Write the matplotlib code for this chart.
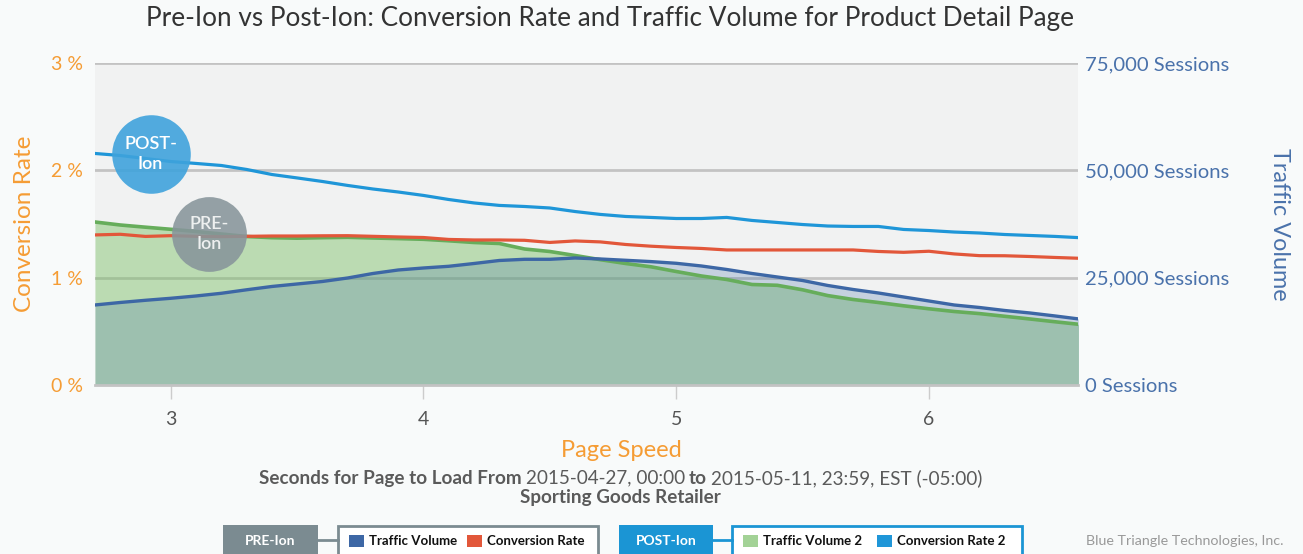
import numpy as np
import matplotlib.pyplot as plt
from matplotlib.patches import Rectangle
from matplotlib.ticker import FuncFormatter

plt.rcParams['font.family'] = ['Lato', 'DejaVu Sans']

# page speed in seconds
speed = [2.7, 2.8, 2.9, 3.0, 3.1, 3.2, 3.3, 3.4, 3.5, 3.6,
         3.7, 3.8, 3.9, 4.0, 4.1, 4.2, 4.3, 4.4, 4.5, 4.6,
         4.7, 4.8, 4.9, 5.0, 5.1, 5.2, 5.3, 5.4, 5.5, 5.6,
         5.7, 5.8, 5.9, 6.0, 6.1, 6.2, 6.3, 6.4, 6.5, 6.6]

# PRE-Ion
conv_pre = [1.398, 1.404, 1.384, 1.391, 1.385, 1.382, 1.385, 1.388, 1.388, 1.390,
            1.391, 1.385, 1.379, 1.374, 1.356, 1.351, 1.351, 1.348, 1.328, 1.342,
            1.333, 1.309, 1.293, 1.281, 1.272, 1.258, 1.258, 1.258, 1.258, 1.258,
            1.258, 1.244, 1.236, 1.246, 1.221, 1.205, 1.204, 1.197, 1.188, 1.180]
traffic_pre = [18634, 19215, 19727, 20193, 20730, 21357, 22173, 22942, 23525, 24105,
               24921, 25970, 26783, 27250, 27645, 28297, 28996, 29275, 29275, 29578,
               29345, 29043, 28740, 28344, 27715, 26900, 25970, 25153, 24338, 23174,
               22242, 21427, 20495, 19564, 18632, 18050, 17351, 16769, 16070, 15325]

# POST-Ion
conv_post = [2.157, 2.138, 2.110, 2.082, 2.064, 2.045, 2.008, 1.961, 1.929, 1.896,
             1.859, 1.826, 1.798, 1.766, 1.728, 1.696, 1.673, 1.663, 1.649, 1.616,
             1.589, 1.570, 1.561, 1.551, 1.551, 1.561, 1.533, 1.514, 1.495, 1.481,
             1.477, 1.477, 1.449, 1.439, 1.425, 1.416, 1.402, 1.393, 1.384, 1.372]
traffic_post = [37963, 37264, 36752, 36263, 35750, 35168, 34586, 34306, 34190, 34306,
                34399, 34236, 34096, 33934, 33584, 33188, 32955, 31674, 31092, 30161,
                29183, 28297, 27529, 26434, 25386, 24571, 23406, 23220, 22172, 20821,
                19913, 19214, 18446, 17747, 17118, 16629, 16000, 15371, 14719, 14090]

ORANGE = '#f59c34'
NAVY = '#4a72ab'
RED = '#e2573a'
SKY = '#1f96d8'
DARK = '#3d67a5'
GREEN = '#66ad5b'

fig = plt.figure(figsize=(13.03, 5.54), dpi=100, facecolor='#f8fafa')
ax2 = fig.add_axes([0.0729, 0.3051, 0.7544, 0.5812])
ax = ax2.twinx()
ax.set_zorder(ax2.get_zorder() + 1)
ax.patch.set_visible(False)
ax2.set_facecolor('#f1f2f2')

# traffic (right axis, drawn underneath)
ax2.set_ylim(0, 75000)
ax2.set_xlim(2.7, 6.59)
ax2.set_yticks([25000, 50000, 75000])
ax2.grid(axis='y', color='#c3c3c3', lw=2, zorder=0)
ax2.set_axisbelow(True)
ax2.fill_between(speed, traffic_post, color='#7cc068', alpha=0.46, lw=0, zorder=1)
ax2.fill_between(speed, traffic_pre, color='#4472a8', alpha=0.25, lw=0, zorder=2)
ax2.plot(speed, traffic_post, color=GREEN, lw=2.6, zorder=3)
ax2.plot(speed, traffic_pre, color=DARK, lw=2.4, zorder=4)
ax2.tick_params(axis='y', left=False, labelleft=False, right=False, labelright=False)
ax2.set_xticks([3, 4, 5, 6])
ax2.tick_params(axis='x', length=10, width=1, color='#cccccc', labelsize=14,
                labelcolor='#555555', pad=9)
for s in ['top', 'left', 'right']:
    ax2.spines[s].set_visible(False)
ax2.spines['bottom'].set_color('#c3c3c3')
ax2.spines['bottom'].set_linewidth(2)

# conversion rate (left axis, on top)
ax.set_ylim(0, 3)
ax.set_xlim(2.7, 6.59)
ax.plot(speed, conv_post, color=SKY, lw=2.3, zorder=3)
ax.plot(speed, conv_pre, color=RED, lw=2.3, zorder=3)
for s in ax.spines.values():
    s.set_visible(False)
ax2.yaxis.set_ticks_position('none')
ax.yaxis.set_ticks_position('none')
ax.set_yticks([])

pct = ax2.secondary_yaxis('left', functions=(lambda v: v / 25000, lambda v: v * 25000))
pct.set_yticks([0, 1, 2, 3])
pct.yaxis.set_major_formatter(FuncFormatter(lambda v, p: f'{v:.0f} %'))
pct.tick_params(length=0, labelsize=14, labelcolor=ORANGE, pad=8.5)
pct.spines['left'].set_visible(False)
pct.set_ylabel('Conversion Rate', color=ORANGE, fontsize=17.5, labelpad=12)

sess = ax2.secondary_yaxis('right')
sess.set_yticks([0, 25000, 50000, 75000])
sess.yaxis.set_major_formatter(FuncFormatter(lambda v, p: f'{v:,.0f} Sessions'))
sess.tick_params(length=0, labelsize=14.6, labelcolor=NAVY, pad=5)
sess.spines['right'].set_visible(False)
sess.set_ylabel('Traffic Volume', color=NAVY, fontsize=16.8, rotation=-90, labelpad=44)

# bubbles
ax.scatter([2.92], [2.152], s=3200, color='#3fa3dc', alpha=0.9, lw=0, zorder=5)
ax.text(2.92, 2.152, 'POST-\nIon', color='white', fontsize=13, fontweight='semibold',
        ha='center', va='center', linespacing=1.25, zorder=6)
ax.scatter([3.15], [1.407], s=2900, color='#87959b', alpha=0.88, lw=0, zorder=5)
ax.text(3.15, 1.407, 'PRE-\nIon', color='#eef0f0', fontsize=13, fontweight='semibold',
        ha='center', va='center', linespacing=1.25, zorder=6)

# titles and captions
fig.text(0.468, 0.967, 'Pre-Ion vs Post-Ion: Conversion Rate and Traffic Volume for Product Detail Page',
         ha='center', va='center', fontsize=18.8, color='#333333')
fig.text(0.477, 0.187, 'Page Speed', ha='center', va='center', fontsize=17, color=ORANGE)

renderer = fig.canvas.get_renderer()


def text_run(parts, xc, y, size, color):
    objs = []
    total = 0
    for s, w in parts:
        t = fig.text(0, y, s, fontsize=size, fontweight=w, color=color, va='center', ha='left')
        wd = t.get_window_extent(renderer).width
        objs.append((t, wd))
        total += wd
    gap = size * 0.3
    total += gap * (len(parts) - 1)
    x = xc * fig.bbox.width - total / 2
    for t, wd in objs:
        t.set_x(x / fig.bbox.width)
        x += wd + gap


text_run([('Seconds for Page to Load From', 'bold'), ('2015-04-27, 00:00', 'normal'),
          ('to', 'bold'), ('2015-05-11, 23:59, EST (-05:00)', 'normal')],
         0.4765, 0.137, 13.6, '#5a5a5a')
fig.text(0.4765, 0.102, 'Sporting Goods Retailer', ha='center', va='center',
         fontsize=13.6, fontweight='bold', color='#5a5a5a')

# bottom legends
W, H = 1303, 554


def rect(x0, y0, x1, y1, **kw):
    fig.patches.append(Rectangle((x0 / W, 1 - y1 / H), (x1 - x0) / W, (y1 - y0) / H,
                                 transform=fig.transFigure, **kw))


def legend_group(tag, tag_col, x_tag0, x_tag1, x_box0, x_box1, items):
    rect(x_tag0, 525, x_tag1, 560, color=tag_col, lw=0)
    fig.text((x_tag0 + x_tag1) / 2 / W, 1 - 541 / H, tag, color='white', fontsize=10,
             fontweight='bold', ha='center', va='center')
    fig.lines.append(plt.Line2D([x_tag1 / W, x_box0 / W], [1 - 540 / H, 1 - 540 / H],
                                transform=fig.transFigure, color=tag_col, lw=2))
    rect(x_box0, 526, x_box1, 562, facecolor='white', edgecolor=tag_col, lw=2)
    for sx, col, label in items:
        rect(sx, 535, sx + 15, 547, color=col, lw=0)
        fig.text((sx + 20) / W, 1 - 541 / H, label, fontsize=9.5, fontweight='bold',
                 color='#111111', ha='left', va='center')


legend_group('PRE-Ion', '#7b8b91', 223, 318, 338, 598,
             [(349, DARK, 'Traffic Volume'), (467, RED, 'Conversion Rate')])
legend_group('POST-Ion', '#1b95d4', 619, 713, 732, 1022,
             [(743, '#a3d296', 'Traffic Volume 2'), (877, SKY, 'Conversion Rate 2')])

fig.text(1283 / W, 1 - 541 / H, 'Blue Triangle Technologies, Inc.', ha='right', va='center',
         fontsize=10.3, color='#999999')

fig.savefig('out.png', dpi=100, facecolor=fig.get_facecolor())
